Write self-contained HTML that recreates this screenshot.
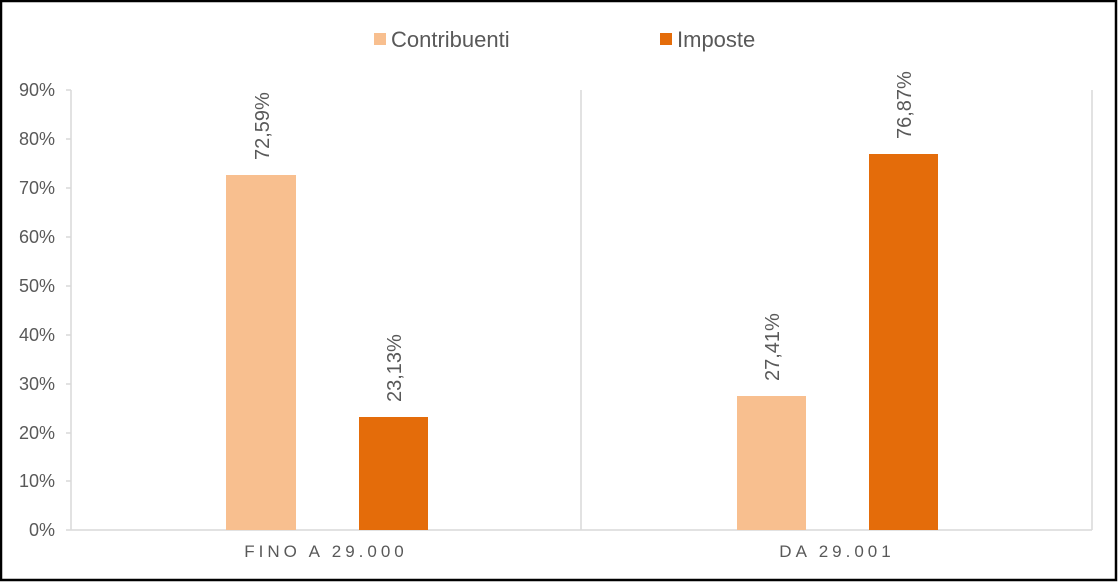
<!DOCTYPE html>
<html><head><style>
body{margin:0;background:#fff;}
svg{display:block;font-family:"Liberation Sans",sans-serif;}
</style></head><body>
<svg width="1118" height="582" xmlns="http://www.w3.org/2000/svg">
<rect x="1" y="1" width="1115" height="579" fill="#fff" stroke="#000" stroke-width="2.5"/>
<g stroke="#d9d9d9" stroke-width="1.5" fill="none">
<line x1="71" y1="90" x2="71" y2="530"/>
<line x1="581" y1="90" x2="581" y2="530"/>
<line x1="1092" y1="90" x2="1092" y2="530"/>
<line x1="66" y1="530" x2="1092" y2="530"/>
<line x1="66" y1="90" x2="71" y2="90"/><line x1="66" y1="139" x2="71" y2="139"/>
<line x1="66" y1="188" x2="71" y2="188"/><line x1="66" y1="237" x2="71" y2="237"/>
<line x1="66" y1="286" x2="71" y2="286"/><line x1="66" y1="335" x2="71" y2="335"/>
<line x1="66" y1="384" x2="71" y2="384"/><line x1="66" y1="433" x2="71" y2="433"/>
<line x1="66" y1="481" x2="71" y2="481"/>
</g>
<g fill="#595959" font-size="18" text-anchor="end">
<text x="55" y="96">90%</text><text x="55" y="145">80%</text><text x="55" y="194">70%</text>
<text x="55" y="243">60%</text><text x="55" y="292">50%</text><text x="55" y="341">40%</text>
<text x="55" y="390">30%</text><text x="55" y="439">20%</text><text x="55" y="487">10%</text>
<text x="55" y="536">0%</text>
</g>
<rect x="226" y="175" width="70" height="355" fill="#f8bf8f"/>
<rect x="359" y="417" width="69" height="113" fill="#e46c0a"/>
<rect x="737" y="396" width="69" height="134" fill="#f8bf8f"/>
<rect x="869" y="154" width="69" height="376" fill="#e46c0a"/>
<g fill="#595959" font-size="20">
<text transform="translate(269,160) rotate(-90)">72,59%</text>
<text transform="translate(401,402) rotate(-90)">23,13%</text>
<text transform="translate(779,381) rotate(-90)">27,41%</text>
<text transform="translate(911,139) rotate(-90)">76,87%</text>
</g>
<g fill="#595959" font-size="17" letter-spacing="4" text-anchor="middle">
<text x="326" y="557">FINO A 29.000</text>
<text x="837" y="557">DA 29.001</text>
</g>
<rect x="374" y="33" width="12" height="12" fill="#f8bf8f"/>
<text x="391" y="47" fill="#595959" font-size="22">Contribuenti</text>
<rect x="660" y="33" width="12" height="12" fill="#e46c0a"/>
<text x="677" y="47" fill="#595959" font-size="22">Imposte</text>
</svg>
</body></html>
